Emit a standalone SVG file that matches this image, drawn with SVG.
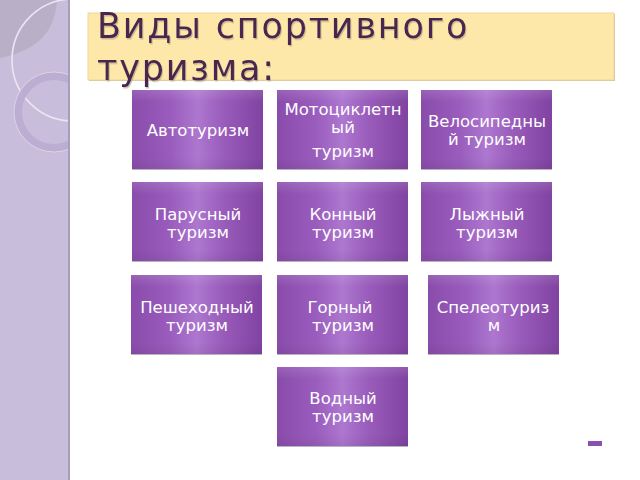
<svg xmlns="http://www.w3.org/2000/svg" width="640" height="480" viewBox="0 0 640 480">
<defs>
<linearGradient id="boxg" x1="0" y1="0" x2="1" y2="0">
<stop offset="0" stop-color="#8a4cab"/>
<stop offset="0.3" stop-color="#9a5dbd"/>
<stop offset="0.5" stop-color="#ad77cf"/>
<stop offset="0.7" stop-color="#995cbb"/>
<stop offset="1" stop-color="#8043a1"/>
</linearGradient>
<linearGradient id="boxv" x1="0" y1="0" x2="0" y2="1">
<stop offset="0" stop-color="#ffffff" stop-opacity="0.12"/>
<stop offset="0.15" stop-color="#ffffff" stop-opacity="0"/>
<stop offset="0.85" stop-color="#000000" stop-opacity="0"/>
<stop offset="1" stop-color="#000000" stop-opacity="0.06"/>
</linearGradient>
<filter id="tsh" x="-5%" y="-20%" width="110%" height="140%">
<feDropShadow dx="1" dy="1.5" stdDeviation="0.6" flood-color="#a89a80" flood-opacity="0.6"/>
</filter>
<clipPath id="panel"><rect x="0" y="0" width="69" height="480"/></clipPath>
<style>
.box{fill:url(#boxg);}
.shade{fill:url(#boxv);}
.shadow{fill:#b9b3bd;}
.lbl{font-family:"DejaVu Sans","Noto Sans",sans-serif;font-size:16.5px;fill:#ffffff;text-anchor:middle;}
.title{font-family:"DejaVu Sans","Noto Sans",sans-serif;font-size:35px;letter-spacing:1.8px;fill:#4a2650;filter:url(#tsh);}
</style>
</defs>
<rect width="640" height="480" fill="#ffffff"/>
<!-- left decorative panel -->
<g id="panel-deco">
<rect x="0" y="0" width="69" height="480" fill="#c8bdda"/>
<g clip-path="url(#panel)">
<path d="M0 0 H57 C55 30 40 50 0 58 Z" fill="#b9b0c8"/>
<circle cx="73" cy="60" r="61" fill="none" stroke="#ebe6f2" stroke-width="1.6"/>
<circle cx="54" cy="112" r="36" fill="none" stroke="#bcaed3" stroke-width="8"/>
<circle cx="54" cy="112" r="40" fill="none" stroke="#e2dcea" stroke-width="0.8"/>
</g>
<rect x="68" y="0" width="2" height="480" fill="#a89ebb"/>
</g>
<!-- title -->
<g id="title">
<rect x="89" y="14" width="526" height="67" fill="#c9c0a6"/>
<rect x="88" y="13" width="526" height="67" fill="#fde8a9" stroke="#efd894" stroke-width="1"/>
<text class="title" x="97" y="38">Виды спортивного</text>
<text class="title" x="97" y="80">туризма:</text>
</g>
<g id="connectors"></g>
<g id="n1">
<rect class="shadow" x="132" y="91" width="131" height="79"/>
<rect class="box" x="132" y="90" width="131" height="79"/>
<rect class="shade" x="132" y="90" width="131" height="79"/>
<text class="lbl" x="198" y="136">Автотуризм</text>
</g>
<g id="n2">
<rect class="shadow" x="277" y="91" width="131" height="79"/>
<rect class="box" x="277" y="90" width="131" height="79"/>
<rect class="shade" x="277" y="90" width="131" height="79"/>
<text class="lbl" x="343" y="115">Мотоциклетн</text>
<text class="lbl" x="343" y="133">ый</text>
<text class="lbl" x="343" y="157">туризм</text>
</g>
<g id="n3">
<rect class="shadow" x="421" y="91" width="131" height="79"/>
<rect class="box" x="421" y="90" width="131" height="79"/>
<rect class="shade" x="421" y="90" width="131" height="79"/>
<text class="lbl" x="487" y="127">Велосипедны</text>
<text class="lbl" x="487" y="145">й туризм</text>
</g>
<g id="n4">
<rect class="shadow" x="132" y="183" width="131" height="79"/>
<rect class="box" x="132" y="182" width="131" height="79"/>
<rect class="shade" x="132" y="182" width="131" height="79"/>
<text class="lbl" x="198" y="220">Парусный</text>
<text class="lbl" x="198" y="238">туризм</text>
</g>
<g id="n5">
<rect class="shadow" x="277" y="183" width="131" height="79"/>
<rect class="box" x="277" y="182" width="131" height="79"/>
<rect class="shade" x="277" y="182" width="131" height="79"/>
<text class="lbl" x="343" y="220">Конный</text>
<text class="lbl" x="343" y="238">туризм</text>
</g>
<g id="n6">
<rect class="shadow" x="421" y="183" width="131" height="79"/>
<rect class="box" x="421" y="182" width="131" height="79"/>
<rect class="shade" x="421" y="182" width="131" height="79"/>
<text class="lbl" x="487" y="220">Лыжный</text>
<text class="lbl" x="487" y="238">туризм</text>
</g>
<g id="n7">
<rect class="shadow" x="131" y="276" width="131" height="79"/>
<rect class="box" x="131" y="275" width="131" height="79"/>
<rect class="shade" x="131" y="275" width="131" height="79"/>
<text class="lbl" x="197" y="313">Пешеходный</text>
<text class="lbl" x="197" y="331">туризм</text>
</g>
<g id="n8">
<rect class="shadow" x="277" y="276" width="131" height="79"/>
<rect class="box" x="277" y="275" width="131" height="79"/>
<rect class="shade" x="277" y="275" width="131" height="79"/>
<text class="lbl" x="340" y="313">Горный</text>
<text class="lbl" x="343" y="331">туризм</text>
</g>
<g id="n9">
<rect class="shadow" x="428" y="276" width="131" height="79"/>
<rect class="box" x="428" y="275" width="131" height="79"/>
<rect class="shade" x="428" y="275" width="131" height="79"/>
<text class="lbl" x="493" y="313">Спелеотуриз</text>
<text class="lbl" x="494" y="331">м</text>
</g>
<g id="n10">
<rect class="shadow" x="277" y="368" width="131" height="79"/>
<rect class="box" x="277" y="367" width="131" height="79"/>
<rect class="shade" x="277" y="367" width="131" height="79"/>
<text class="lbl" x="343" y="404">Водный</text>
<text class="lbl" x="343" y="422">туризм</text>
</g>
<rect x="588" y="441" width="14" height="5" fill="#8a50b0"/>
</svg>
